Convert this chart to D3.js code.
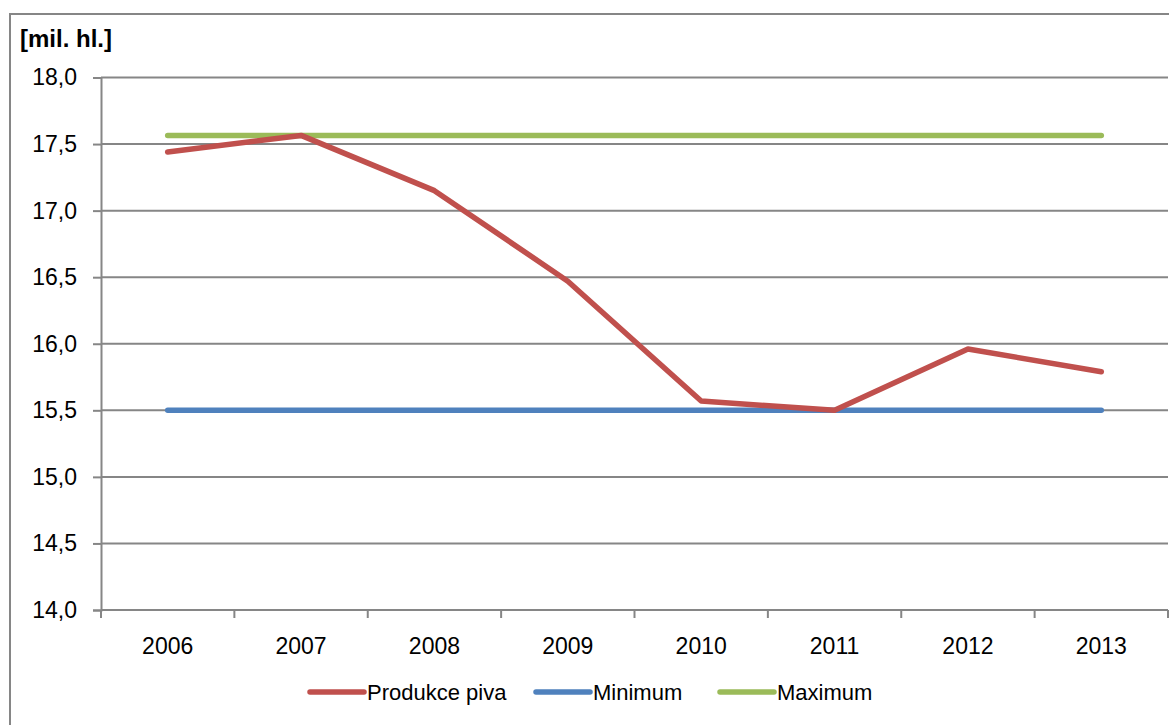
<!DOCTYPE html>
<html>
<head>
<meta charset="utf-8">
<script src="https://cdn.jsdelivr.net/npm/d3@7/dist/d3.min.js"></script>
<style>
  html, body { margin: 0; padding: 0; background: #fff; }
  svg { display: block; }
  text { font-family: "Liberation Sans", Arial, sans-serif; fill: #000; }
</style>
</head>
<body>
<svg id="chart" width="1169" height="725"></svg>
<script>
// Beer production in the Czech Republic, millions of hectolitres
const years = ["2006", "2007", "2008", "2009", "2010", "2011", "2012", "2013"];
const production = [17.44, 17.565, 17.15, 16.47, 15.57, 15.50, 15.96, 15.79];
const minimum = [15.50, 15.50, 15.50, 15.50, 15.50, 15.50, 15.50, 15.50];
const maximum = [17.565, 17.565, 17.565, 17.565, 17.565, 17.565, 17.565, 17.565];
const yTicks = [14.0, 14.5, 15.0, 15.5, 16.0, 16.5, 17.0, 17.5, 18.0];
const seriesNames = ["Produkce piva", "Minimum", "Maximum"];
const seriesColors = ["#C0504D", "#4F81BD", "#9BBB59"];
const unitLabel = "[mil. hl.]";

const svg = d3.select("#chart");
const gridColor = "#868686";

// outer chart frame
svg.append("rect")
  .attr("x", 10).attr("y", 14)
  .attr("width", 1300).attr("height", 900)
  .attr("fill", "none").attr("stroke", gridColor).attr("stroke-width", 2);

const plot = { left: 101, right: 1168, top: 77.5, bottom: 610 };

const x = d3.scaleBand().domain(years).range([plot.left, plot.right]).padding(0);
const y = d3.scaleLinear().domain([14, 18]).range([plot.bottom, plot.top]);

// horizontal gridlines
svg.append("g").selectAll("line").data(yTicks).join("line")
  .attr("x1", plot.left).attr("x2", plot.right)
  .attr("y1", d => y(d)).attr("y2", d => y(d))
  .attr("stroke", gridColor).attr("stroke-width", 2);

// y axis
const yAxis = svg.append("g")
  .attr("transform", `translate(${plot.left},0)`)
  .call(d3.axisLeft(y).tickValues(yTicks).tickSize(8).tickPadding(16)
    .tickFormat(d => d3.format(".1f")(d).replace(".", ",")));
yAxis.select(".domain").attr("stroke", gridColor).attr("stroke-width", 2);
yAxis.selectAll(".tick line").attr("stroke", gridColor).attr("stroke-width", 2);
yAxis.selectAll(".tick text")
  .style("font-family", "Liberation Sans, Arial, sans-serif")
  .style("font-size", "23px").attr("fill", "#000");

// x axis: ticks sit on the category boundaries
const xAxisG = svg.append("g").attr("transform", `translate(0,${plot.bottom})`);
const boundaries = years.map(d => x(d)).concat([x(years[years.length - 1]) + x.bandwidth()]);
xAxisG.selectAll("line.tk").data(boundaries).join("line")
  .attr("class", "tk")
  .attr("x1", d => d).attr("x2", d => d)
  .attr("y1", 0).attr("y2", 8)
  .attr("stroke", gridColor).attr("stroke-width", 2);
xAxisG.selectAll("text").data(years).join("text")
  .attr("x", d => x(d) + x.bandwidth() / 2)
  .attr("y", 44)
  .attr("text-anchor", "middle")
  .style("font-size", "23px")
  .text(d => d);

// unit label
svg.append("text")
  .attr("x", 20).attr("y", 47)
  .style("font-size", "24px").style("font-weight", "bold")
  .text(unitLabel);

// series lines
const line = d3.line()
  .x((d, i) => x(years[i]) + x.bandwidth() / 2)
  .y(d => y(d));

const series = [production, minimum, maximum];
// draw order: Minimum, Maximum below, production on top
[1, 2, 0].forEach(k => {
  svg.append("path")
    .datum(series[k])
    .attr("d", line)
    .attr("fill", "none")
    .attr("stroke", seriesColors[k])
    .attr("stroke-width", 5.5)
    .attr("stroke-linecap", "round")
    .attr("stroke-linejoin", "round");
});

// legend
const legendItems = [
  { x: 310, text: seriesNames[0], color: seriesColors[0] },
  { x: 536, text: seriesNames[1], color: seriesColors[1] },
  { x: 720, text: seriesNames[2], color: seriesColors[2] }
];
const legendY = 692;
const lg = svg.append("g").selectAll("g").data(legendItems).join("g");
lg.append("line")
  .attr("x1", d => d.x).attr("x2", d => d.x + 54)
  .attr("y1", legendY).attr("y2", legendY)
  .attr("stroke", d => d.color).attr("stroke-width", 5.5)
  .attr("stroke-linecap", "round");
lg.append("text")
  .attr("x", d => d.x + 57)
  .attr("y", legendY + 8)
  .style("font-size", "22px")
  .text(d => d.text);
</script>
</body>
</html>
